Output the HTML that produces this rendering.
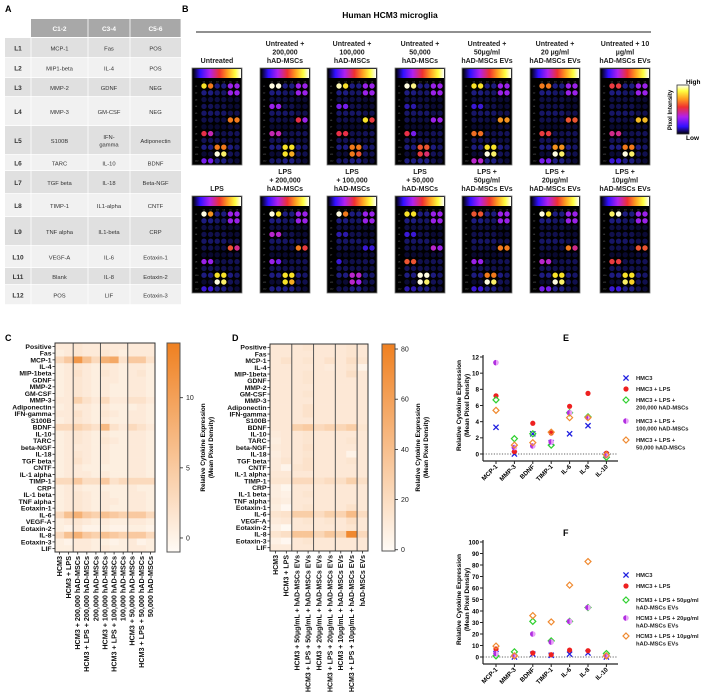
<!DOCTYPE html>
<html><head><meta charset="utf-8"><style>
html,body{margin:0;padding:0;background:#fff;}
svg{display:block;font-family:"Liberation Sans",Arial,sans-serif;}
.b{font-weight:bold;}
</style></head><body>
<svg id="s" width="703" height="693" viewBox="0 0 703 693" xmlns="http://www.w3.org/2000/svg">
<text x="5" y="12" class="b" font-size="9">A</text>
<text x="182" y="12" class="b" font-size="9">B</text>
<text x="5" y="341" class="b" font-size="9">C</text>
<text x="232" y="341" class="b" font-size="9">D</text>
<text x="563" y="341" class="b" font-size="9">E</text>
<text x="563" y="536" class="b" font-size="9">F</text>
<text x="390" y="18" class="b" font-size="8.5" text-anchor="middle">Human HCM3 microglia</text>
<line x1="196" y1="32" x2="651" y2="32" stroke="#222" stroke-width="1"/>
<g id="gA"></g>
<g id="gB"></g>
<g id="gC"></g>
<g id="gD"></g>
<g id="gE"></g>
<g id="gF"></g>
</svg>
<script>
// ---------- data ----------
const tableRows = [
 ["L1","MCP-1","Fas","POS"],["L2","MIP1-beta","IL-4","POS"],["L3","MMP-2","GDNF","NEG"],
 ["L4","MMP-3","GM-CSF","NEG"],["L5","S100B","IFN-|gamma","Adiponectin"],["L6","TARC","IL-10","BDNF"],
 ["L7","TGF beta","IL-18","Beta-NGF"],["L8","TIMP-1","IL1-alpha","CNTF"],["L9","TNF alpha","IL1-beta","CRP"],
 ["L10","VEGF-A","IL-6","Eotaxin-1"],["L11","Blank","IL-8","Eotaxin-2"],["L12","POS","LIF","Eotaxin-3"]];
const tableRowBounds = [38,58,78,97,126,155,171,194,217,246,268,285,305];

const arrayTitlesTop = [["Untreated"],["Untreated +","200,000","hAD-MSCs"],["Untreated +","100,000","hAD-MSCs"],["Untreated +","50,000","hAD-MSCs"],["Untreated +","50µg/ml","hAD-MSCs EVs"],["Untreated +","20 µg/ml","hAD-MSCs EVs"],["Untreated + 10","µg/ml","hAD-MSCs EVs"]];
const arrayTitlesBot = [["LPS"],["LPS","+ 200,000","hAD-MSCs"],["LPS","+ 100,000","hAD-MSCs"],["LPS","+ 50,000","hAD-MSCs"],["LPS +","50µg/ml","hAD-MSCs EVs"],["LPS +","20µg/ml","hAD-MSCs EVs"],["LPS +","10µg/ml","hAD-MSCs EVs"]];
const basePattern = [
 [.85,.75,.2,.2,.45,.45],[.2,.2,.15,.15,.45,.45],[.08,.08,.08,.08,.05,.05],[.2,.2,.1,.1,.05,.05],
 [.15,.15,.15,.15,.1,.1],[.1,.1,.08,.08,.7,.7],[.04,.04,.04,.04,.06,.06],[.6,.55,.1,.1,.12,.12],
 [.12,.12,.1,.1,.08,.08],[.2,.2,.75,.75,.2,.15],[.05,.05,.95,.85,.12,.1],[.4,.4,.2,.2,.1,.05]];
// per array: [L1c1, L1c2, L4c1, L6c5, L6c6, L8c1, L8c2, L10c3, L11c3, L12c1]
const arrayTweaks = [
 [.85,.72,.12,.72,.72,.6,.52,.72,.98,.4],[.98,.98,.45,.6,.45,.52,.52,.85,.85,.15],[.95,.85,.4,.85,.62,.6,.6,.72,.72,.15],[.98,.92,.25,.45,.45,.6,.4,.66,.62,.2],
 [.85,.85,.3,.75,.75,.7,.7,.85,.98,.5],[.72,.72,.1,.66,.66,.62,.62,.75,.98,.4],[.62,.62,.1,.8,.8,.55,.55,.72,.98,.3],
 [.98,.75,.1,.66,.55,.45,.45,.85,.98,.3],[.98,.85,.5,.72,.62,.45,.4,.85,.85,.2],[.98,.72,.25,.3,.3,.3,.1,.5,.5,.1],[.85,.85,.3,.5,.45,.66,.66,.98,.98,.25],
 [.66,.66,.1,.72,.72,.45,.45,.72,.98,.3],[.98,.85,.1,.72,.55,.5,.5,.85,.98,.4],[.9,.98,.1,.66,.66,.62,.62,.85,.9,.3]];

const cytokines = ["Positive","Fas","MCP-1","IL-4","MIP-1beta","GDNF","MMP-2","GM-CSF","MMP-3","Adiponectin","IFN-gamma","S100B","BDNF","IL-10","TARC","beta-NGF","IL-18","TGF beta","CNTF","IL-1 alpha","TIMP-1","CRP","IL-1 beta","TNF alpha","Eotaxin-1","IL-6","VEGF-A","Eotaxin-2","IL-8","Eotaxin-3","LIF"];
const groupsC = ["HCM3","HCM3 + LPS","HCM3 + 200,000 hAD-MSCs","HCM3 + LPS + 200,000 hAD-MSCs","200,000 hAD-MSCs","HCM3 + 100,000 hAD-MSCs","HCM3 + LPS + 100,000 hAD-MSCs","100,000 hAD-MSCs","HCM3 + 50,000 hAD-MSCs","HCM3 + LPS + 50,000 hAD-MSCs","50,000 hAD-MSCs"];
const valuesC = [
 [1,1,1.5,1,1,1,1,1,1,1,1],[0.5,1,1.5,1,1,1.5,1,0.5,1,1,1],[3,5,11,6,3,8,9,2,5,5,2],[0.5,1,1.5,1,0.5,1,1,0.5,1,1,0.5],
 [0.5,1,2,1,0.5,1.5,1,0.5,1,1.5,0.5],[0.5,1,1.5,1,0.5,1,1,0.5,1,1,0.5],[0.5,1,1.5,1,0.5,1,0.5,0.5,1,1,0.5],[0.5,1,1.5,1,0.5,1,0.5,0.5,1,1,0.5],
 [1,1,4,2,1,3,1,1,2,2,1],[0.5,1,1,1,0.5,1,0.5,0.5,0.5,1,0.5],[1,1,2,1,0.5,1.5,1,0.5,1,1,0.5],[0.5,1,1.5,1,0.5,1,0.5,0.5,1,1,0.5],
 [3,3,4,3,2,7,2,1,3,2,1],[0.5,1,1.5,1,0.5,1,0.5,0.5,1,1,0.5],[0.5,1,1.5,1,0.5,1.5,1,0.5,1,1,0.5],[0.5,1,1,1,0.5,1,0.5,0.5,1,1,0.5],
 [0.5,1,1.5,1,0.5,1,0.5,0.5,1,1,0.5],[0.5,1,2,1,0.5,1,0.5,0.5,1,1,0.5],[0.5,1,1,0.5,0.5,0.5,0.5,0.5,1,1,0.5],[0.5,1,1,1,0.5,1,0.5,0.5,1,1,0.5],
 [3,3,5,2.5,2.5,5,2,3,3,3,3],[0.5,1,1,0.5,0.5,0.5,0.5,0.5,1,0.5,0.5],[0.5,1,1.5,1,0.5,1,0.5,0.5,1,1,0.5],[0.5,1,1.5,1,0.5,1,1,0.5,1,1,0.5],
 [0.5,1,1.5,1,0.5,1,0.5,0.5,1,1,0.5],[3,6,8,5,4,6,5,4,5,5,3],[0.5,1,1.5,1,0.5,1,0.5,0.5,1,1,0.5],[0.5,0,1,0,0,0.5,0,0,0.5,0.5,0],
 [3,6,8,5,4,6,5,4,5,5,3],[0.5,0,1,1,0.5,0.5,0,0.5,1,0,0.5],[0.5,0.5,1,1,0.5,1,0.5,0.5,1,1,0.5]];
const ticksC = [0,5,10];

const groupsD = ["HCM3","HCM3 + LPS","HCM3 + 50µg/mL + hAD-MSCs EVs","HCM3 + LPS + 50µg/mL + hAD-MSCs EVs","HCM3 + 20µg/mL + hAD-MSCs EVs","HCM3 + LPS + 20µg/mL + hAD-MSCs EVs","HCM3 + 10µg/mL + hAD-MSCs EVs","HCM3 + LPS + 10µg/mL + hAD-MSCs EVs","hAD-MSCs EVs"];
const valuesD = [
 [12,12,12,14,12,12,12,14,12],[12,12,12,12,12,12,12,14,12],[12,16,12,14,12,16,12,18,14],[12,12,12,12,12,10,12,14,5],
 [12,12,12,14,12,12,12,18,12],[12,12,12,14,12,12,12,12,12],[12,12,12,12,12,12,12,12,12],[12,12,12,14,12,12,12,12,12],
 [12,12,12,12,12,12,12,12,12],[12,12,12,16,12,12,12,12,12],[12,12,12,16,12,12,12,12,12],[12,12,12,12,12,12,12,12,12],
 [12,12,28,32,22,26,24,30,14],[10,12,12,14,12,12,12,12,12],[8,12,12,14,12,12,12,14,12],[10,12,12,16,12,12,12,12,12],
 [8,12,12,14,12,12,12,5,12],[10,14,12,16,12,12,12,14,12],[10,4,14,16,12,12,12,12,12],[12,12,12,12,12,12,12,12,12],
 [14,14,22,22,16,20,18,28,18],[8,3,12,12,12,12,12,12,12],[8,6,12,14,12,12,12,12,12],[10,8,12,12,12,12,12,12,12],
 [8,2,12,14,12,12,12,16,12],[14,16,30,30,20,28,26,42,20],[10,12,12,14,12,14,12,18,12],[6,1,12,12,12,12,12,14,12],
 [14,18,36,36,24,34,28,76,22],[6,2,12,14,12,12,12,12,12],[10,10,12,12,12,12,12,12,12]];
const ticksD = [0,20,40,60,80];

const catsEF = ["MCP-1","MMP-3","BDNF","TIMP-1","IL-6","IL-8","IL-10"];
const eHMC3 = [3.3,0,2.5,1.4,2.5,3.5,-0.1];
const eLPS = [7.2,0.3,3.8,2.6,5.9,7.5,0.1];
const e200k = [6.7,1.9,2.5,1.1,5.1,4.6,-0.4];
const e100k = [11.3,0.8,1.0,1.5,5.1,4.5,-0.2];
const e50k = [5.4,1.1,1.4,2.7,4.5,4.5,-0.1];
const ticksE = [0,2,4,6,8,10,12];
const fHMC3 = [3,0,2.5,1.5,2.5,3.5,0];
const fLPS = [7,1,3.5,2,6,5.5,0.5];
const f50 = [1,4.5,31,14,31,43,3];
const f20 = [3,1,20,13,31,43,1];
const f10 = [9.5,1,36,30.5,62.5,83,1];
const ticksF = [0,10,20,30,40,50,60,70,80,90,100];

// ---------- helpers ----------
const NS="http://www.w3.org/2000/svg";
function mk(parent,tag,attrs,txt){const e=document.createElementNS(NS,tag);for(const k in attrs)e.setAttribute(k,attrs[k]);if(txt!==undefined)e.textContent=txt;parent.appendChild(e);return e;}
function lerpHex(a,b,t){const pa=[1,3,5].map(i=>parseInt(a.substr(i,2),16)),pb=[1,3,5].map(i=>parseInt(b.substr(i,2),16));return "rgb("+pa.map((v,i)=>Math.round(v+(pb[i]-v)*t)).join(",")+")";}
const fireStops=[[0,"#04041c"],[0.2,"#1e1c80"],[0.33,"#4418f0"],[0.48,"#b024e8"],[0.6,"#e83048"],[0.72,"#f27a1c"],[0.86,"#f8ea2a"],[1,"#ffffff"]];
const barStops=[[0,"#000000"],[0.15,"#3010ff"],[0.35,"#b020f0"],[0.55,"#f03030"],[0.72,"#ffa020"],[0.88,"#ffff40"],[1,"#ffffff"]];
function fire(t){t=Math.max(0,Math.min(1,t));for(let i=1;i<fireStops.length;i++){if(t<=fireStops[i][0]){const a=fireStops[i-1],b=fireStops[i];return lerpHex(a[1],b[1],(t-a[0])/(b[0]-a[0]));}}return "#fff";}
function orangeScale(v,min,max){const t=Math.max(0,Math.min(1,(v-min)/(max-min)));return lerpHex("#fffbf6","#ef8020",t);}
const svg=document.getElementById('s');
const defs=mk(svg,'defs',{});
const fg=mk(defs,'linearGradient',{id:'fireH',x1:0,y1:0,x2:1,y2:0});
barStops.forEach(s=>mk(fg,'stop',{offset:s[0],'stop-color':s[1]}));
const fgv=mk(defs,'linearGradient',{id:'fireV',x1:0,y1:1,x2:0,y2:0});
barStops.forEach(s=>mk(fgv,'stop',{offset:s[0],'stop-color':s[1]}));
const og=mk(defs,'linearGradient',{id:'orV',x1:0,y1:1,x2:0,y2:0});
mk(og,'stop',{offset:0,'stop-color':'#fffbf6'});mk(og,'stop',{offset:1,'stop-color':'#ef8020'});

// ---------- panel A ----------
(function(){
 const g=document.getElementById('gA');
 const cols=[5,31,88,130,181];
 let r=mk(g,'rect',{x:31,y:19,width:150,height:18,fill:'#a8a8a8'});
 
 ["C1-2","C3-4","C5-6"].forEach((h,i)=>{const t=mk(g,'text',{x:(cols[i+1]+cols[i+2])/2,y:31,'font-size':6.5,fill:'#fff','text-anchor':'middle',class:'b'},h);
  mk(g,'line',{x1:cols[i+2],y1:19,x2:cols[i+2],y2:37,stroke:'#fff','stroke-width':0.8});});
 tableRows.forEach((row,i)=>{
  const y0=tableRowBounds[i],y1=tableRowBounds[i+1];
  const rr=mk(g,'rect',{x:5,y:y0,width:176,height:y1-y0-0.8,fill:i%2===0?'#e0e0e0':'#f1f1f1'});
  
  for(let c=1;c<4;c++)mk(g,'line',{x1:cols[c],y1:y0,x2:cols[c],y2:y1,stroke:'#fff','stroke-width':0.8});
  row.forEach((cell,c)=>{
   const cx=c===0?18:(cols[c]+cols[c+1])/2;const parts=cell.split('|');
   parts.forEach((p,k)=>{const t=mk(g,'text',{x:cx,y:(y0+y1)/2+2.3+(k-(parts.length-1)/2)*7.5,'font-size':c===0?6.5:5.8,'text-anchor':'middle',fill:'#333',class:c===0?'b':''},p);
    });
  });
 });
})();

// ---------- panel B ----------
(function(){
 const g=document.getElementById('gB');
 const xs=[192,260,327,395,462,530,600];
 function drawArray(x,y,tw,titles,idx){
  const ag=mk(g,'g',{});
  titles.forEach((l,k)=>{const t=mk(ag,'text',{x:x+25,y:y-5-(titles.length-1-k)*8.5,'font-size':7,'text-anchor':'middle',class:'b',fill:'#222'},l);});
  mk(ag,'rect',{x:x,y:y,width:50,height:97,fill:'#000',stroke:'#777','stroke-width':0.8});
  mk(ag,'rect',{x:x+1,y:y+1,width:48,height:9,fill:'url(#fireH)'});
  for(let c=0;c<6;c++)mk(ag,'text',{x:x+12+c*6.6,y:y+14.5,'font-size':2,fill:'#888','text-anchor':'middle'},'C'+(c+1));
  const pat=basePattern.map(r=>r.slice());
  pat[0][0]=tw[0];pat[0][1]=tw[1];pat[3][0]=pat[3][1]=tw[2];pat[5][4]=tw[3];pat[5][5]=tw[4];pat[7][0]=tw[5];pat[7][1]=tw[6];pat[9][2]=pat[9][3]=tw[7];pat[10][2]=tw[8];pat[10][3]=tw[8]*0.92;pat[11][0]=pat[11][1]=tw[9];
  pat.forEach((row,r)=>{mk(ag,'text',{x:x+3,y:y+18.8+r*6.8,'font-size':2,fill:'#888'},'L'+(r+1));
   row.forEach((v,c)=>{const d=mk(ag,'circle',{cx:x+12+c*6.6,cy:y+18+r*6.8,r:2.7,fill:fire(v)});});});
 }
 xs.forEach((x,i)=>drawArray(x,68,arrayTweaks[i],arrayTitlesTop[i],i));
 xs.forEach((x,i)=>drawArray(x,196,arrayTweaks[i+7],arrayTitlesBot[i],i+7));
 const lg=mk(g,'g',{});
 mk(lg,'rect',{x:677,y:85,width:12,height:49,fill:'url(#fireV)',stroke:'#333','stroke-width':0.8});
 mk(lg,'text',{x:686,y:84,'font-size':6.5,class:'b'},'High');
 mk(lg,'text',{x:686,y:140,'font-size':6.5,class:'b'},'Low');
 mk(lg,'text',{x:0,y:0,'font-size':6,class:'b','text-anchor':'middle',transform:'translate(672,110) rotate(-90)'},'Pixel Intensity');
})();

// ---------- heatmaps ----------
function heatmap(gid,x0,x1,y0,y1,vals,groups,seps,cbx,tickVals,vmin,vmax,labelFont){
 const g=document.getElementById(gid);
 const nr=cytokines.length,nc=groups.length,cw=(x1-x0)/nc,rh=(y1-y0)/nr;
 vals.forEach((row,r)=>row.forEach((v,c)=>{const cell=mk(g,'rect',{x:x0+c*cw,y:y0+r*rh,width:cw+0.3,height:rh+0.3,fill:orangeScale(v,vmin,vmax)});
  }));
 seps.forEach(s=>mk(g,'line',{x1:x0+s*cw,y1:y0,x2:x0+s*cw,y2:y1,stroke:'#555','stroke-width':1}));
 mk(g,'rect',{x:x0,y:y0,width:x1-x0,height:y1-y0,fill:'none',stroke:'#333','stroke-width':1});
 cytokines.forEach((n,r)=>{const yy=y0+(r+0.5)*rh;mk(g,'line',{x1:x0-2.5,y1:yy,x2:x0,y2:yy,stroke:'#222','stroke-width':0.8});
  const t=mk(g,'text',{x:x0-3.5,y:yy+2.4,'font-size':6.8,'text-anchor':'end',class:'b',fill:'#111'},n);});
 groups.forEach((n,c)=>{const xx=x0+(c+0.5)*cw;mk(g,'line',{x1:xx,y1:y1,x2:xx,y2:y1+2.5,stroke:'#222','stroke-width':0.8});
  const t=mk(g,'text',{x:0,y:0,'font-size':labelFont,'text-anchor':'end',class:'b',fill:'#111',transform:`translate(${xx+2.4},${y1+4}) rotate(-90)`},n);});
 const cb=mk(g,'g',{});
 mk(cb,'rect',{x:cbx,y:y0,width:13,height:y1-y0,fill:'url(#orV)',stroke:'#555','stroke-width':1});
 const ys=v=>y1-(v-vmin)/(vmax-vmin)*(y1-y0);
 tickVals.forEach(v=>{const yy=ys(v);mk(cb,'line',{x1:cbx+13,y1:yy,x2:cbx+16,y2:yy,stroke:'#222','stroke-width':0.8});
  mk(cb,'text',{x:cbx+19,y:yy+2.5,'font-size':7,fill:'#222'},String(v));});
 const tx=cbx+38,ty=(y0+y1)/2;
 mk(cb,'text',{x:0,y:0,'font-size':6.3,class:'b','text-anchor':'middle',transform:`translate(${tx},${ty}) rotate(-90)`},'Relative Cytokine Expression');
 mk(cb,'text',{x:0,y:0,'font-size':6.3,class:'b','text-anchor':'middle',transform:`translate(${tx+8},${ty}) rotate(-90)`},'(Mean Pixel Density)');
}
heatmap('gC',55,155,343,552,valuesC,groupsC,[2,5,8],167,ticksC,-1,13.9,7.2);
heatmap('gD',270,368,344,551,valuesD,groupsD,[2,4,6,8],382,ticksD,-0.5,82,7.0);

// ---------- scatter E/F ----------
function scatter(gid,yZero,yTop,vmax,ticks,series,legendY,labels){
 const g=document.getElementById(gid);
 const ax=483,xEnd=618;
 const xs=i=>496+i*18.4;const ys=v=>yZero-(v/vmax)*(yZero-yTop);
 const axBottom=yZero+7;
 mk(g,'line',{x1:ax,y1:yTop-2,x2:ax,y2:axBottom,stroke:'#222','stroke-width':1.2});
 mk(g,'line',{x1:ax,y1:axBottom,x2:xEnd,y2:axBottom,stroke:'#222','stroke-width':1.2});
 mk(g,'line',{x1:ax,y1:yZero,x2:xEnd,y2:yZero,stroke:'#333','stroke-width':0.8,'stroke-dasharray':'1.2,1.5'});
 ticks.forEach(v=>{const yy=ys(v);mk(g,'line',{x1:ax-3,y1:yy,x2:ax,y2:yy,stroke:'#222','stroke-width':1});
  const t=mk(g,'text',{x:ax-4,y:yy+2.3,'font-size':6.3,'text-anchor':'end',class:'b'},String(v));});
 catsEF.forEach((c,i)=>{mk(g,'line',{x1:xs(i),y1:axBottom,x2:xs(i),y2:axBottom+3,stroke:'#222','stroke-width':1});
  const t=mk(g,'text',{x:0,y:0,'font-size':6.3,'text-anchor':'end',class:'b',transform:`translate(${xs(i)+2},${axBottom+6}) rotate(-45)`},c);});
 const cy=(yTop+yZero)/2;
 mk(g,'text',{x:0,y:0,'font-size':6.5,class:'b','text-anchor':'middle',transform:`translate(${ax-22},${cy}) rotate(-90)`},'Relative Cytokine Expression');
 mk(g,'text',{x:0,y:0,'font-size':6.5,class:'b','text-anchor':'middle',transform:`translate(${ax-14},${cy}) rotate(-90)`},'(Mean Pixel Density)');
 function marker(p,x,y,type){
  if(type==='x'){mk(p,'path',{d:`M${x-2.6},${y-2.6}L${x+2.6},${y+2.6}M${x-2.6},${y+2.6}L${x+2.6},${y-2.6}`,stroke:'#2020e0','stroke-width':1.3});}
  else if(type==='dot'){mk(p,'circle',{cx:x,cy:y,r:2.6,fill:'#ee2020'});}
  else if(type==='green'){mk(p,'path',{d:`M${x},${y-3}L${x+3},${y}L${x},${y+3}L${x-3},${y}Z`,fill:'none',stroke:'#30d030','stroke-width':1.2});}
  else if(type==='purple'){mk(p,'circle',{cx:x,cy:y,r:2.8,fill:'#e8a0f8'});mk(p,'path',{d:`M${x},${y-2.8}A2.8,2.8 0 0 0 ${x},${y+2.8}Z`,fill:'#b030e0'});}
  else {mk(p,'path',{d:`M${x},${y-3}L${x+3},${y}L${x},${y+3}L${x-3},${y}Z`,fill:'none',stroke:'#f08a30','stroke-width':1.2});}
 }
 const types=['x','dot','green','purple','orange'];
 series.forEach((s,si)=>{const sg=mk(g,'g',{});
  s.forEach((v,i)=>{const pg=mk(sg,'g',{});marker(pg,xs(i),ys(v),types[si]);});});
 labels.forEach((l,i)=>{const lg=mk(g,'g',{});
  const y=legendY[i];marker(lg,626,y,types[i]);
  l.forEach((line,k)=>mk(lg,'text',{x:636,y:y+2.2+k*7.5,'font-size':5.8,class:'b',fill:'#222'},line));});
}
scatter('gE',454,357,12,ticksE,[eHMC3,eLPS,e200k,e100k,e50k],[378,389,400,421,440],
 [["HMC3"],["HMC3 + LPS"],["HMC3 + LPS +","200,000 hAD-MSCs"],["HMC3 + LPS +","100,000 hAD-MSCs"],["HMC3 + LPS +","50,000 hAD-MSCs"]]);
scatter('gF',657,542,100,ticksF,[fHMC3,fLPS,f50,f20,f10],[575,586,600,618,636],
 [["HMC3"],["HMC3 + LPS"],["HCM3 + LPS + 50µg/ml","hAD-MSCs EVs"],["HCM3 + LPS + 20µg/ml","hAD-MSCs EVs"],["HCM3 + LPS + 10µg/ml","hAD-MSCs EVs"]]);
</script>
</body></html>
